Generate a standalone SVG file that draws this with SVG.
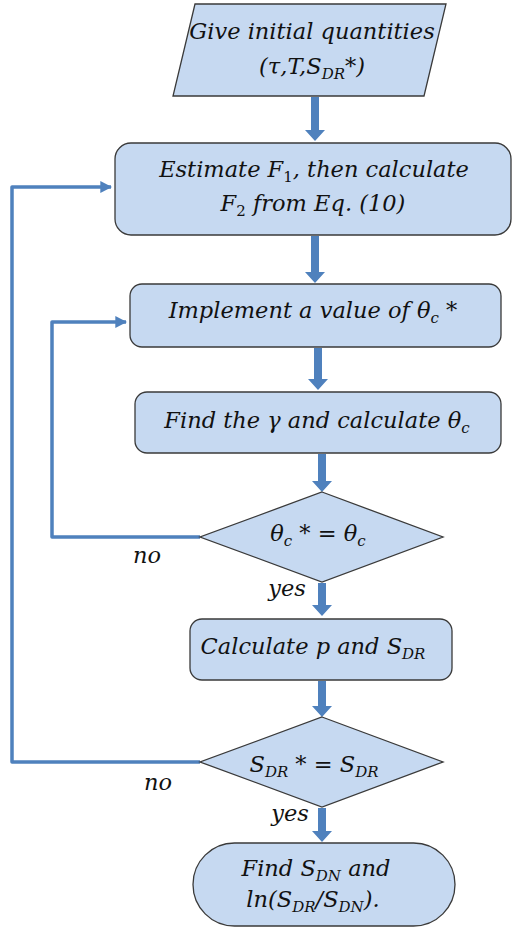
<svg xmlns="http://www.w3.org/2000/svg" width="512" height="928" viewBox="0 0 512 928">
<style>
.n{fill:#c6d9f1;stroke:#3a3a3a;stroke-width:1.3}
.t{font-family:"DejaVu Serif","Liberation Serif",serif;font-style:italic;font-size:22.5px;fill:#111;text-anchor:middle}
.s{font-size:15px}
.fat{fill:#4f81bd}
.loop{fill:none;stroke:#4f81bd;stroke-width:3.5;stroke-linejoin:round}
</style>
<defs>
<marker id="ah" viewBox="0 0 10 10" refX="9" refY="5" markerWidth="3.4" markerHeight="3.4" orient="auto" markerUnits="strokeWidth">
<path d="M0,0 L10,5 L0,10 z" fill="#4f81bd"/>
</marker>
</defs>
<rect width="512" height="928" fill="#fff"/>
<g id="connectors">
<path class="fat" d="M311,97 h8 v33 h6 l-10,11 l-10,-11 h6 z"/>
<path class="fat" d="M311,236 h8 v36 h6 l-10,11 l-10,-11 h6 z"/>
<path class="fat" d="M314,348 h8 v31 h6 l-10,11 l-10,-11 h6 z"/>
<path class="fat" d="M318,454 h8 v27 h6 l-10,11 l-10,-11 h6 z"/>
<path class="fat" d="M318,583 h8 v22 h6 l-10,11 l-10,-11 h6 z"/>
<path class="fat" d="M318,681 h8 v25 h6 l-10,11 l-10,-11 h6 z"/>
<path class="fat" d="M318,808 h8 v23 h6 l-10,11 l-10,-11 h6 z"/>
<path class="loop" d="M200,537 H52 V322 H126" marker-end="url(#ah)"/>
<path class="loop" d="M200,762 H12 V187 H111" marker-end="url(#ah)"/>
<text class="t" x="147" y="563">no</text>
<text class="t" x="287" y="596">yes</text>
<text class="t" x="158" y="790">no</text>
<text class="t" x="290" y="821">yes</text>
</g>
<g id="start">
<path class="n" d="M195,4 H446 L424,96 H173 Z"/>
<text class="t" x="312" y="39">Give initial quantities</text>
<text class="t" x="312" y="74">(τ,<tspan>T</tspan>,S<tspan class="s" dy="5">DR</tspan><tspan dy="-5">*)</tspan></text>
</g>
<g id="estimate">
<rect class="n" x="115" y="143" width="396" height="92" rx="16"/>
<text class="t" x="314" y="177">Estimate F<tspan class="s" dy="5" font-style="normal">1</tspan><tspan dy="-5">,  then calculate</tspan></text>
<text class="t" x="313" y="211">F<tspan class="s" dy="5" font-style="normal">2</tspan><tspan dy="-5"> from Eq. (10)</tspan></text>
</g>
<g id="implement">
<rect class="n" x="130" y="284" width="371" height="63" rx="12"/>
<text class="t" x="313" y="318">Implement a value of θ<tspan class="s" dy="5">c</tspan><tspan dy="-5"> *</tspan></text>
</g>
<g id="find">
<rect class="n" x="135" y="392" width="366" height="61" rx="12"/>
<text class="t" x="317" y="428">Find the γ and calculate θ<tspan class="s" dy="5">c</tspan></text>
</g>
<g id="check1">
<path class="n" d="M322,492 L443,537 L322,582 L200,537 Z"/>
<text class="t" x="318" y="541">θ<tspan class="s" dy="5">c</tspan><tspan dy="-5"> * = θ</tspan><tspan class="s" dy="5">c</tspan></text>
</g>
<g id="calc">
<rect class="n" x="190" y="619" width="262" height="61" rx="12"/>
<text class="t" x="313" y="654">Calculate p and S<tspan class="s" dy="5">DR</tspan></text>
</g>
<g id="check2">
<path class="n" d="M322,717 L443,762 L322,807 L200,762 Z"/>
<text class="t" x="314" y="772">S<tspan class="s" dy="5">DR</tspan><tspan dy="-5"> * = S</tspan><tspan class="s" dy="5">DR</tspan></text>
</g>
<g id="end">
<rect class="n" x="193" y="843" width="262" height="83" rx="41.5"/>
<text class="t" x="316" y="876">Find S<tspan class="s" dy="5">DN</tspan><tspan dy="-5"> and</tspan></text>
<text class="t" x="313" y="907">ln(S<tspan class="s" dy="5">DR</tspan><tspan dy="-5">/S</tspan><tspan class="s" dy="5">DN</tspan><tspan dy="-5">).</tspan></text>
</g>
</svg>
